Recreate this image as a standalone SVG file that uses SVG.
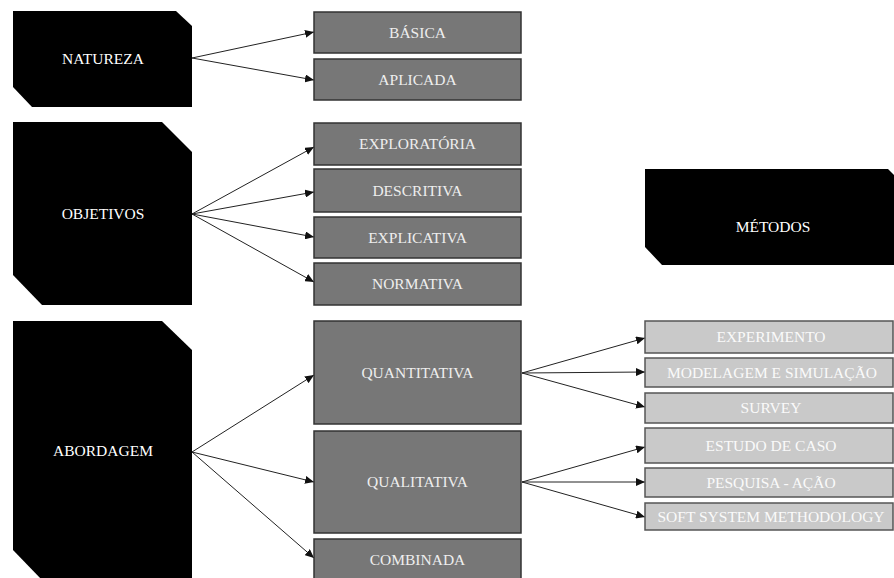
<svg xmlns="http://www.w3.org/2000/svg" width="894" height="578" viewBox="0 0 894 578">
<style>
.blk{fill:#000}
.mid{fill:#777;stroke:#333;stroke-width:1.5}
.lt{fill:#c9c9c9;stroke:#555;stroke-width:1.5}
text{font-size:15.5px;text-anchor:middle}
.tb{fill:#fff}
.tm{fill:#eee}
.tl{fill:#fafafa}
.edge{stroke:#222;stroke-width:1;fill:none;marker-end:url(#ah)}
</style>
<defs>
<marker id="ah" markerWidth="9" markerHeight="8" refX="9" refY="4" orient="auto" markerUnits="userSpaceOnUse">
<path d="M0,0 L9,4 L0,8 Z" fill="#111"/>
</marker>
</defs>
<rect width="894" height="578" fill="#fff"/>
<g id="connectors">
<line class="edge" x1="192" y1="58" x2="314" y2="32"/>
<line class="edge" x1="192" y1="58" x2="314" y2="80"/>
<line class="edge" x1="192" y1="214" x2="314" y2="147"/>
<line class="edge" x1="192" y1="214" x2="314" y2="192"/>
<line class="edge" x1="192" y1="214" x2="314" y2="237"/>
<line class="edge" x1="192" y1="214" x2="314" y2="282"/>
<line class="edge" x1="192" y1="452" x2="314" y2="375"/>
<line class="edge" x1="192" y1="452" x2="314" y2="482"/>
<line class="edge" x1="192" y1="452" x2="314" y2="558"/>
<line class="edge" x1="522" y1="373" x2="645" y2="338"/>
<line class="edge" x1="522" y1="373" x2="645" y2="372"/>
<line class="edge" x1="522" y1="373" x2="645" y2="407"/>
<line class="edge" x1="522" y1="482" x2="645" y2="447"/>
<line class="edge" x1="522" y1="482" x2="645" y2="482"/>
<line class="edge" x1="522" y1="482" x2="645" y2="517"/>
</g>
<g font-family="'Liberation Serif', 'Times New Roman', 'DejaVu Serif', serif">
<g id="natureza"><polygon class="blk" points="13,11 176,11 192,26 192,107 32,107 13,87"/><text class="tb" x="103" y="64">NATUREZA</text></g>
<g id="objetivos"><polygon class="blk" points="13,122 162,122 192,152 192,305 42,305 13,275"/><text class="tb" x="103" y="219">OBJETIVOS</text></g>
<g id="abordagem"><polygon class="blk" points="13,321 162,321 192,350 192,580 42,580 13,550"/><text class="tb" x="103" y="456">ABORDAGEM</text></g>
<g id="metodos"><polygon class="blk" points="645,169 888,169 894,175 894,265 662,265 645,247"/><text class="tb" x="773" y="232">MÉTODOS</text></g>
<g id="basica"><rect class="mid" x="314" y="12" width="207" height="41"/><text class="tm" x="417.5" y="37.5">BÁSICA</text></g>
<g id="aplicada"><rect class="mid" x="314" y="59" width="207" height="41"/><text class="tm" x="417.5" y="84.5">APLICADA</text></g>
<g id="exploratoria"><rect class="mid" x="314" y="123" width="207" height="42"/><text class="tm" x="417.5" y="149">EXPLORATÓRIA</text></g>
<g id="descritiva"><rect class="mid" x="314" y="169" width="207" height="43"/><text class="tm" x="417.5" y="195.5">DESCRITIVA</text></g>
<g id="explicativa"><rect class="mid" x="314" y="217" width="207" height="41"/><text class="tm" x="417.5" y="242.5">EXPLICATIVA</text></g>
<g id="normativa"><rect class="mid" x="314" y="263" width="207" height="42"/><text class="tm" x="417.5" y="289">NORMATIVA</text></g>
<g id="quantitativa"><rect class="mid" x="314" y="321" width="207" height="103"/><text class="tm" x="417.5" y="378">QUANTITATIVA</text></g>
<g id="qualitativa"><rect class="mid" x="314" y="431" width="207" height="102"/><text class="tm" x="417.5" y="487">QUALITATIVA</text></g>
<g id="combinada"><rect class="mid" x="314" y="539" width="207" height="42"/><text class="tm" x="417.5" y="565">COMBINADA</text></g>
<g id="experimento"><rect class="lt" x="645" y="321" width="248" height="32"/><text class="tl" x="771" y="342">EXPERIMENTO</text></g>
<g id="modelagem"><rect class="lt" x="645" y="358" width="248" height="29"/><text class="tl" x="772" y="377.5">MODELAGEM E SIMULAÇÃO</text></g>
<g id="survey"><rect class="lt" x="645" y="393" width="248" height="30"/><text class="tl" x="771" y="413">SURVEY</text></g>
<g id="estudo"><rect class="lt" x="645" y="428" width="248" height="35"/><text class="tl" x="771" y="450.5">ESTUDO DE CASO</text></g>
<g id="pesquisa"><rect class="lt" x="645" y="468" width="248" height="29"/><text class="tl" x="771" y="487.5">PESQUISA - AÇÃO</text></g>
<g id="soft"><rect class="lt" x="645" y="503" width="248" height="27"/><text class="tl" x="771" y="521.5">SOFT SYSTEM METHODOLOGY</text></g>
</g>
</svg>
